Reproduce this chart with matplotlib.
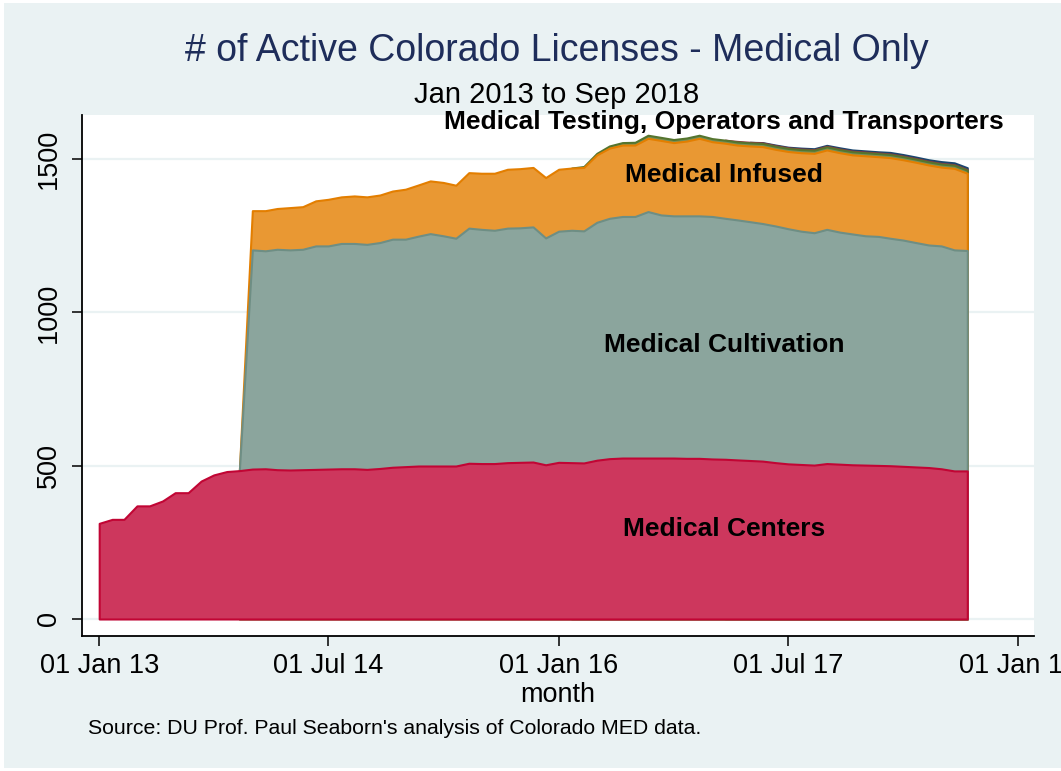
import numpy as np
import pandas as pd
import matplotlib
matplotlib.use("Agg")
import matplotlib.pyplot as plt
import matplotlib.dates as mdates
from matplotlib.patches import Rectangle

plt.rcParams['font.family'] = ['Liberation Sans', 'DejaVu Sans']

months = pd.date_range("2013-01-01", "2018-09-01", freq="MS")

centers = [312, 325, 325, 369, 369, 385, 412, 412, 450, 470, 481, 484,
           489, 490, 487, 486, 487, 488, 489, 490, 490, 488, 491, 495,
           497, 499, 499, 499, 499, 508, 507, 507, 510, 511, 512, 503,
           511, 510, 509, 518, 523, 525, 525, 525, 525, 525, 524, 524,
           522, 521, 519, 517, 515, 510, 506, 504, 502, 507, 505, 503,
           502, 501, 500, 498, 496, 494, 490, 483, 483]

cultivation = [0, 0, 0, 0, 0, 0, 0, 0, 0, 0, 0, 0,
               715, 711, 719, 718, 719, 729, 728, 735, 735, 734, 737, 744,
               742, 750, 758, 751, 743, 767, 764, 761, 765, 765, 767, 740,
               754, 758, 757, 776, 784, 788, 788, 804, 793, 790, 791, 791,
               791, 786, 783, 779, 775, 772, 767, 761, 758, 764, 757, 753,
               748, 747, 742, 738, 732, 726, 727, 721, 719]

infused = [0, 0, 0, 0, 0, 0, 0, 0, 0, 0, 0, 0,
           128, 131, 133, 138, 139, 147, 152, 152, 155, 155, 155, 157,
           163, 167, 172, 174, 173, 181, 183, 186, 192, 193, 194, 197,
           202, 203, 207, 220, 229, 233, 233, 239, 243, 239, 244, 253,
           244, 245, 244, 247, 251, 250, 252, 256, 259, 259, 259, 258,
           261, 260, 263, 262, 262, 261, 257, 266, 252]

testing = [0, 0, 0, 0, 0, 0, 0, 0, 0, 0, 0, 0,
           0, 0, 0, 0, 0, 0, 0, 0, 0, 0, 0, 0,
           0, 0, 0, 0, 0, 0, 0, 0, 0, 0, 0, 0,
           0, 0, 3, 5, 7, 8, 9, 10, 10, 10, 10, 10,
           10, 10, 10, 10, 10, 10, 10, 10, 10, 10, 10, 10,
           10, 10, 10, 10, 10, 10, 10, 10, 10]

operators = [0, 0, 0, 0, 0, 0, 0, 0, 0, 0, 0, 0,
             0, 0, 0, 0, 0, 0, 0, 0, 0, 0, 0, 0,
             0, 0, 0, 0, 0, 0, 0, 0, 0, 0, 0, 0,
             0, 0, 0, 0, 0, 0, 0, 0, 0, 0, 0, 0,
             0, 0, 2, 2, 2, 2, 2, 2, 2, 2, 2, 2,
             2, 2, 2, 2, 2, 2, 2, 2, 2]

transporters = [0, 0, 0, 0, 0, 0, 0, 0, 0, 0, 0, 0,
                0, 0, 0, 0, 0, 0, 0, 0, 0, 0, 0, 0,
                0, 0, 0, 0, 0, 0, 0, 0, 0, 0, 0, 0,
                0, 0, 0, 0, 0, 0, 0, 0, 0, 0, 0, 0,
                0, 0, 0, 0, 1, 2, 2, 3, 3, 3, 4, 4,
                4, 4, 5, 5, 5, 5, 6, 6, 6]

start_idx = {"centers": 0, "cultivation": 11, "infused": 11,
             "testing": 37, "operators": 49, "transporters": 51}

series = [("centers", centers, "#c10534"),
          ("cultivation", cultivation, "#6e8e84"),
          ("infused", infused, "#e37e00"),
          ("testing", testing, "#55752f"),
          ("operators", operators, "#90353b"),
          ("transporters", transporters, "#1a476f")]


def tint(hexcol, k=0.8):
    c = np.array(matplotlib.colors.to_rgb(hexcol))
    return tuple(c * k + (1 - k))


W, H = 1061, 771
fig = plt.figure(figsize=(W / 100, H / 100), dpi=100)
fig.patch.set_facecolor("white")
fig.add_artist(Rectangle((4 / W, 3 / H), 1 - 4 / W, 1 - 6 / H,
                         transform=fig.transFigure, facecolor="#eaf2f3",
                         edgecolor="none", zorder=0))

ax = fig.add_axes([82 / W, 1 - 636 / H, (1034 - 82) / W, (636 - 115) / H])
ax.set_facecolor("white")

cum = np.cumsum(np.array([s[1] for s in series], dtype=float), axis=0)
x = mdates.date2num(months)

# draw top-most cumulative first (Stata-like layered areas)
for k in range(len(series) - 1, -1, -1):
    name, vals, col = series[k]
    s0 = start_idx[name]
    ax.fill_between(x[s0:], 0, cum[k][s0:], facecolor=tint(col),
                    edgecolor=col, linewidth=1.5, zorder=2 + (len(series) - k))

ax.set_ylim(-55.5, 1644)
ax.set_xlim(mdates.date2num(pd.Timestamp("2012-11-21")),
            mdates.date2num(pd.Timestamp("2019-02-07")))

ax.set_yticks([0, 500, 1000, 1500])
ax.set_yticklabels(["0", "500", "1000", "1500"], rotation=90, va="center")
xt = pd.to_datetime(["2013-01-01", "2014-07-01", "2016-01-01", "2017-07-01", "2019-01-01"])
ax.set_xticks(mdates.date2num(xt))
ax.set_xticklabels(["01 Jan 13", "01 Jul 14", "01 Jan 16", "01 Jul 17", "01 Jan 19"])

ax.grid(axis="y", color="#eaf2f3", linewidth=1.6, zorder=1)
ax.set_axisbelow(True)
for sp in ["top", "right"]:
    ax.spines[sp].set_visible(False)
for sp in ["left", "bottom"]:
    ax.spines[sp].set_linewidth(1.3)
    ax.spines[sp].set_color("black")
ax.tick_params(axis="both", length=7.2, width=1.1, labelsize=19.5, color="black")
ax.tick_params(axis="y", pad=7)
ax.tick_params(axis="x", pad=5)
for lab in ax.get_xticklabels():
    lab.set_clip_on(False)

ax.set_xlabel("month", fontsize=19.5, labelpad=2)

lx = mdates.date2num(pd.Timestamp("2017-01-30"))
lab_kw = dict(ha="center", va="center", fontsize=19, fontweight="bold", color="black", zorder=20)
ax.text(lx, 1621, "Medical Testing, Operators and Transporters", **lab_kw)
ax.text(lx, 1449, "Medical Infused", **lab_kw)
ax.text(lx, 894, "Medical Cultivation", **lab_kw)
ax.text(lx, 294, "Medical Centers", **lab_kw)

fig.text(557 / W, 1 - 51 / H, "# of Active Colorado Licenses - Medical Only",
         ha="center", va="center", fontsize=27, color="#1e2d5a")
fig.text(557 / W, 1 - 95 / H, "Jan 2013 to Sep 2018", ha="center", va="center",
         fontsize=21, color="black")
fig.text(88 / W, 1 - 729 / H, "Source: DU Prof. Paul Seaborn's analysis of Colorado MED data.",
         ha="left", va="center", fontsize=15.3, color="black")

fig.savefig("out.png", dpi=100, facecolor=fig.get_facecolor())
